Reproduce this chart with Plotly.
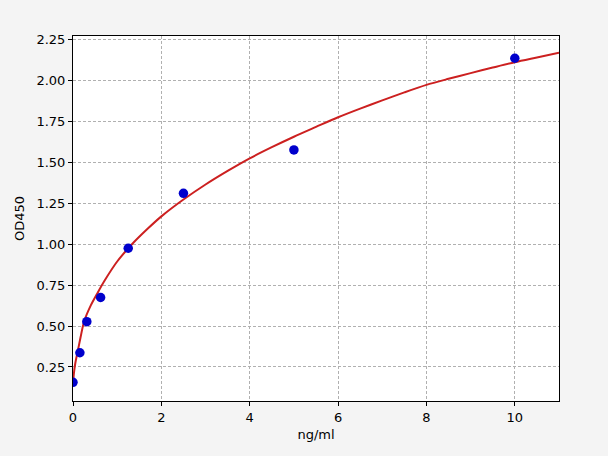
import plotly.graph_objects as go

# standard points (ng/ml vs OD450)
conc = [0, 0.156, 0.3125, 0.625, 1.25, 2.5, 5, 10]
od = [0.156, 0.337, 0.527, 0.675, 0.976, 1.312, 1.577, 2.138]

# fitted curve
fit_x = [0, 0.02, 0.05, 0.1, 0.17, 0.25, 0.4, 0.55, 0.72, 1.0, 1.35, 1.7,
         2.0, 2.5, 3, 3.5, 4, 4.5, 5, 5.5, 6, 6.5, 7, 7.5, 8, 8.5, 9, 9.5,
         10, 10.5, 11]
fit_y = [0.15, 0.21, 0.27, 0.337, 0.43, 0.527, 0.625, 0.70, 0.78, 0.895,
         1.005, 1.098, 1.171, 1.274, 1.366, 1.449, 1.526, 1.594, 1.658,
         1.718, 1.777, 1.830, 1.880, 1.929, 1.975, 2.012, 2.047, 2.081,
         2.114, 2.143, 2.172]

x_ticks = [0, 2, 4, 6, 8, 10]
y_ticks = [0.25, 0.5, 0.75, 1.0, 1.25, 1.5, 1.75, 2.0, 2.25]

font = dict(family="DejaVu Sans", size=13, color="black")

fig = go.Figure()
fig.add_trace(go.Scatter(
    x=fit_x, y=fit_y, mode="lines",
    line=dict(color="#cc2020", width=2, shape="spline", smoothing=0.8),
    hoverinfo="skip"
))
fig.add_trace(go.Scatter(
    x=conc, y=od, mode="markers",
    marker=dict(color="#0000cc", size=9.5, line=dict(width=0))
))

axis_common = dict(
    showline=True, linecolor="black", linewidth=1, mirror=True,
    ticks="outside", ticklen=4, tickcolor="black", tickwidth=1,
    showgrid=True, gridcolor="#b0b0b0", gridwidth=0.8, griddash="3px,2px",
    zeroline=False, tickfont=font,
)

fig.update_xaxes(range=[0, 11], tickvals=x_ticks,
                 title=dict(text="ng/ml", font=font, standoff=6),
                 **axis_common)
fig.update_yaxes(range=[0.042, 2.274], tickvals=y_ticks, tickformat=".2f",
                 title=dict(text="OD450", font=font, standoff=8),
                 **axis_common)

fig.update_layout(
    width=608, height=456,
    margin=dict(l=73, r=49, t=36, b=55),
    paper_bgcolor="#f4f4f4", plot_bgcolor="white",
    showlegend=False, font=font,
)

# drop the page's default body margin so the figure sits at the top-left
fig.write_html("out.html",
               config={"displayModeBar": False},
               post_script="document.body.style.margin='0';")
